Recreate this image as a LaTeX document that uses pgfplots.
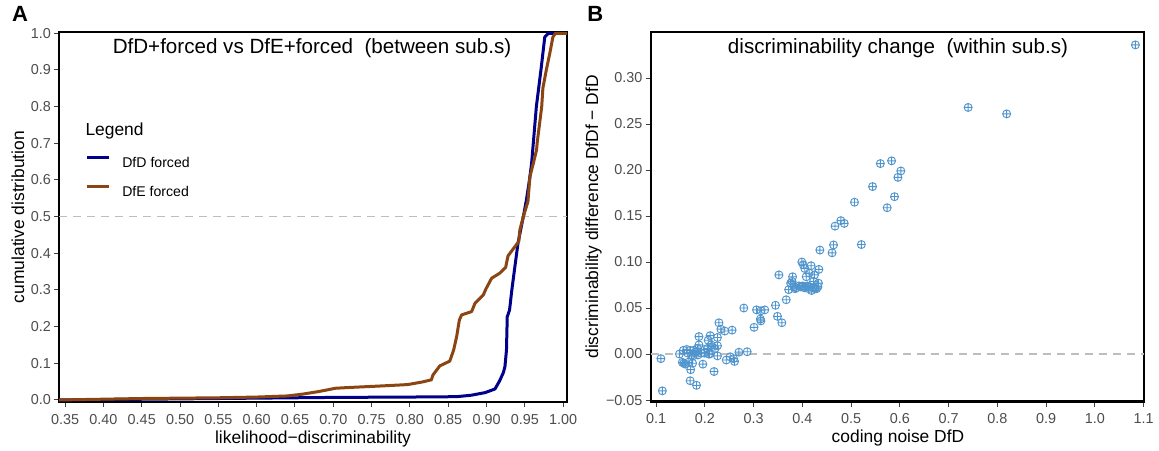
\documentclass[border=0pt]{standalone}
\usepackage{pgfplots}
\pgfplotsset{compat=1.18}
\usepackage{fontspec}
\setmainfont{Liberation Sans}
\usetikzlibrary{plotmarks}

\definecolor{dfdblue}{HTML}{00008B}
\definecolor{dfebrown}{HTML}{8B4513}
\definecolor{ptblue}{HTML}{4F94CD}
\definecolor{ticktext}{HTML}{4D4D4D}
\definecolor{refgray}{HTML}{BEBEBE}

\newcommand{\tickfont}{\fontsize{14.4bp}{17bp}\selectfont}
\newcommand{\labfont}{\fontsize{17.4bp}{20bp}\selectfont}
\newcommand{\titfont}{\fontsize{20.6bp}{24bp}\selectfont}

\pgfplotsset{
  panel/.style={
    scale only axis,
    axis line style={line width=2.4bp, black},
    tick align=outside,
    major tick length=5bp,
    tick style={line width=1bp, color=black!75},
    xtick pos=lower, ytick pos=left,
    minor tick num=0,
    ticklabel style={font=\tickfont, text=ticktext},
    xticklabel style={anchor=base, inner sep=0pt, yshift=-17bp},
    yticklabel style={anchor=east, inner sep=0pt, xshift=-3bp},
    title style={anchor=base, font=\titfont},
    xlabel style={anchor=base, font=\labfont},
    ylabel style={anchor=base, font=\labfont},
  }
}

% ECDF curves
\pgfplotstableread{
x y
0.342 0.000
0.45 0.002
0.60 0.005
0.70 0.007
0.80 0.008
0.861 0.009
0.880 0.013
0.898 0.020
0.911 0.030
0.917 0.052
0.922 0.075
0.924 0.091
0.926 0.136
0.927 0.227
0.930 0.245
0.933 0.300
0.937 0.364
0.941 0.427
0.948 0.500
0.952 0.545
0.956 0.600
0.9588 0.645
0.961 0.700
0.965 0.800
0.971 0.900
0.976 0.990
0.981 1.000
1.005 1.000
}\dfd

\pgfplotstableread{
x y
0.342 0.000
0.45 0.004
0.55 0.006
0.60 0.008
0.64 0.011
0.66 0.016
0.681 0.023
0.703 0.032
0.72 0.034
0.76 0.038
0.797 0.042
0.816 0.049
0.828 0.055
0.830 0.068
0.839 0.093
0.852 0.106
0.857 0.136
0.861 0.173
0.8645 0.218
0.8675 0.232
0.8805 0.241
0.885 0.264
0.8957 0.286
0.899 0.302
0.9066 0.332
0.917 0.3455
0.925 0.362
0.928 0.393
0.937 0.418
0.942 0.432
0.9435 0.464
0.948 0.500
0.954 0.541
0.9566 0.609
0.961 0.645
0.9653 0.682
0.966 0.700
0.972 0.800
0.9735 0.850
0.978 0.900
0.983 0.950
0.9866 0.990
0.990 1.000
1.005 1.000
}\dfe

% per-subject points of the right panel
\pgfplotstableread{
x y
1.083 0.336
0.740 0.268
0.819 0.261
0.583 0.210
0.560 0.207
0.602 0.199
0.596 0.192
0.544 0.182
0.589 0.171
0.507 0.165
0.574 0.159
0.479 0.145
0.486 0.142
0.467 0.139
0.464 0.1186
0.521 0.119
0.436 0.113
0.461 0.110
0.399 0.100
0.402 0.097
0.418 0.096
0.405 0.093
0.434 0.092
0.414 0.088
0.425 0.086
0.352 0.086
0.380 0.084
0.408 0.084
0.423 0.079
0.379 0.079
0.376 0.077
0.433 0.077
0.383 0.073
0.388 0.072
0.393 0.074
0.397 0.073
0.401 0.074
0.404 0.072
0.407 0.073
0.410 0.074
0.413 0.071
0.416 0.073
0.419 0.069
0.422 0.072
0.426 0.071
0.429 0.071
0.432 0.073
0.385 0.071
0.372 0.070
0.367 0.059
0.345 0.053
0.280 0.050
0.306 0.048
0.315 0.047
0.323 0.048
0.349 0.041
0.314 0.038
0.315 0.036
0.358 0.034
0.301 0.029
0.229 0.034
0.233 0.027
0.241 0.025
0.256 0.026
0.188 0.019
0.211 0.020
0.226 0.018
0.207 0.015
0.188 0.010
0.213 0.010
0.205 0.006
0.215 0.008
0.226 0.009
0.221 0.006
0.200 0.005
0.185 0.006
0.177 0.004
0.170 0.004
0.163 0.005
0.156 0.004
0.165 0.001
0.173 -0.001
0.180 0.002
0.186 -0.001
0.192 0.001
0.199 0.001
0.208 0.000
0.148 0.000
0.210 0.000
0.226 -0.002
0.244 -0.0065
0.252 -0.003
0.259 -0.005
0.261 -0.008
0.270 0.002
0.287 0.0025
0.110 -0.005
0.113 -0.040
0.154 -0.009
0.157 -0.010
0.160 -0.011
0.166 -0.009
0.175 -0.010
0.196 -0.011
0.171 -0.017
0.219 -0.019
0.170 -0.029
0.183 -0.034
0.182 0.002
0.176 -0.002
}\pts

\begin{document}
\begin{tikzpicture}
\useasboundingbox (0,0) rectangle (1159bp,451bp);

\node[anchor=base, font=\bfseries\fontsize{22bp}{26bp}\selectfont] at (20bp,429.3bp) {A};
\node[anchor=base, font=\bfseries\fontsize{22bp}{26bp}\selectfont] at (595.3bp,429.3bp) {B};

\begin{axis}[
  panel,
  at={(59bp,49bp)}, anchor=south west,
  width=508bp, height=370bp,
  xmin=0.342, xmax=1.005,
  ymin=-0.0055, ymax=1.0035,
  xtick={0.35,0.40,0.45,0.50,0.55,0.60,0.65,0.70,0.75,0.80,0.85,0.90,0.95,1.00},
  xticklabels={0.35,0.40,0.45,0.50,0.55,0.60,0.65,0.70,0.75,0.80,0.85,0.90,0.95,1.00},
  ytick={0,0.1,0.2,0.3,0.4,0.5,0.6,0.7,0.8,0.9,1.0},
  yticklabels={0.0,0.1,0.2,0.3,0.4,0.5,0.6,0.7,0.8,0.9,1.0},
  title={DfD+forced vs DfE+forced\ \ (between sub.s)},
  title style={at={(axis description cs:0.498,0.927)}},
  xlabel={likelihood−discriminability},
  xlabel style={at={(axis description cs:0.5,-0.111)}},
  ylabel={cumulative distribution},
  ylabel style={at={(axis description cs:-0.0689,0.5)}},
  legend style={at={(axis description cs:0.0524,0.6657)}, anchor=north west,
    draw=none, fill=none, inner sep=0pt, font=\fontsize{14.1bp}{17bp}\selectfont,
    row sep=16.5bp, column sep=12bp, nodes={inner sep=0pt}},
  legend cell align=left,
  legend image code/.code={\draw[#1, line width=3bp] (0bp,5.5bp) -- (21.5bp,5.5bp);},
]
\addplot[refgray, line width=1.4bp, dash pattern=on 8bp off 6bp, forget plot]
  coordinates {(0.342,0.5) (1.005,0.5)};
\addplot[dfdblue, line width=3bp, line join=round] table {\dfd};
\addlegendentry{DfD forced}
\addplot[dfebrown, line width=3bp, line join=round] table {\dfe};
\addlegendentry{DfE forced}
\node[anchor=base west, font=\labfont] at (axis description cs:0.0453,0.7216) {Legend};
\end{axis}

\begin{axis}[
  panel,
  at={(650.7bp,49.3bp)}, anchor=south west,
  width=493bp, height=369.7bp,
  xmin=0.0891, xmax=1.1,
  ymin=-0.0518, ymax=0.350,
  xtick={0.1,0.2,0.3,0.4,0.5,0.6,0.7,0.8,0.9,1.0,1.1},
  xticklabels={0.1,0.2,0.3,0.4,0.5,0.6,0.7,0.8,0.9,1.0,1.1},
  ytick={-0.05,0,0.05,0.10,0.15,0.20,0.25,0.30},
  yticklabels={−0.05,0.00,0.05,0.10,0.15,0.20,0.25,0.30},
  title={discriminability change\ \ (within sub.s)},
  title style={at={(axis description cs:0.5016,0.926)}},
  xlabel={coding noise DfD},
  xlabel style={at={(axis description cs:0.5016,-0.111)}},
  ylabel={discriminability difference DfDf − DfD},
  ylabel style={at={(axis description cs:-0.1065,0.5)}},
  clip=false,
]
\addplot[refgray, line width=1.4bp, dash pattern=on 8bp off 6bp]
  coordinates {(0.0891,0) (1.1,0)};
\addplot[only marks, mark=oplus, mark size=4bp, mark options={draw=ptblue, line width=0.9bp}] table {\pts};
\end{axis}
\end{tikzpicture}
\end{document}
